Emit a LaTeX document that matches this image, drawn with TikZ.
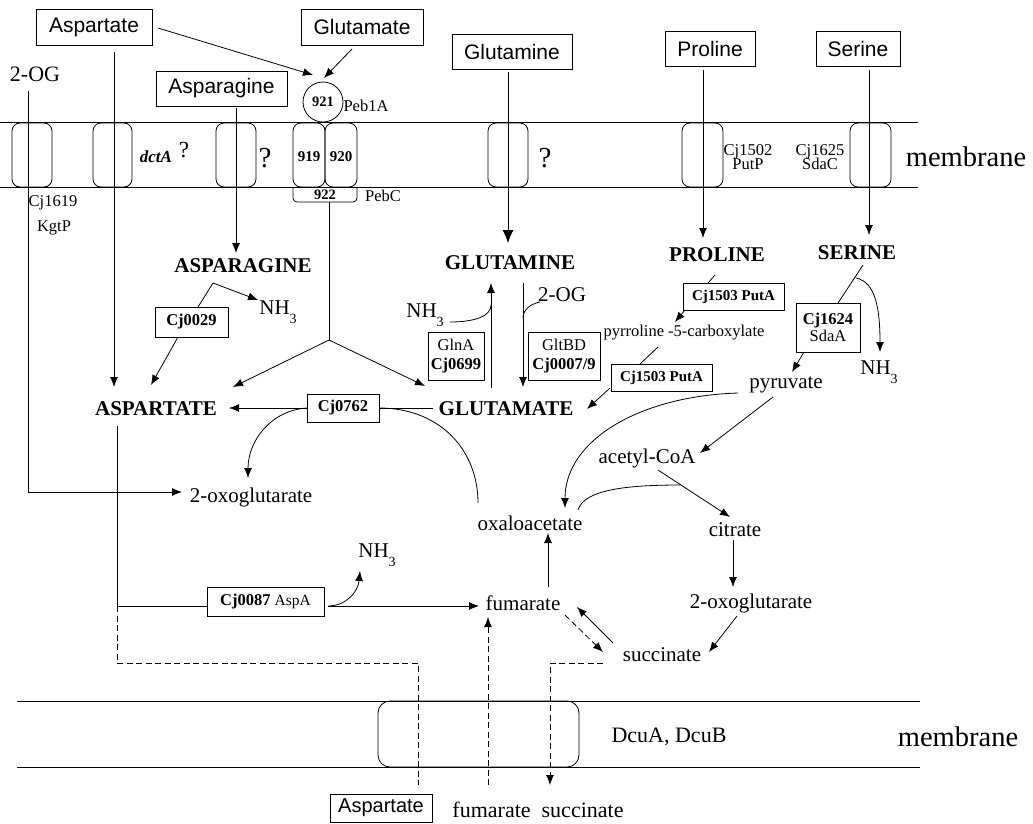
\documentclass[tikz,border=0pt]{standalone}
\usepackage{fontspec}
\setmainfont{Liberation Serif}
\setsansfont{Liberation Sans}
\usetikzlibrary{arrows.meta}
\newcommand\fsz[1]{\fontsize{#1}{#1}\selectfont}
\newcommand\nhthree{NH\raisebox{-0.4em}{\fsz{14}3}}
\begin{document}
\begin{tikzpicture}[x=1pt,y=-1pt,
  line width=0.8pt,
  arr/.style={-{Latex[length=10pt,width=8pt]}},
  bigarr/.style={-{Latex[length=13pt,width=11pt]}},
  sbox/.style={draw, font=\sffamily\fsz{21}, inner sep=0pt},
  ebox/.style={draw, font=\fsz{16.5}\bfseries, inner sep=0pt, align=center},
  met/.style={font=\fsz{21}, inner sep=1pt},
  capmet/.style={font=\fsz{21}\bfseries, inner sep=1pt},
  lbl/.style={font=\fsz{16.5}, inner sep=1pt, align=center},
  chan/.style={draw, rounded corners=8pt},
  dsh/.style={dash pattern=on 6pt off 3.5pt},
]
\useasboundingbox (0,0) rectangle (1033,823);

% ---------------- membranes ----------------
\draw (0,122) -- (918,122);
\draw (0,187) -- (918,187);
\draw (17,701) -- (920,701);
\draw (17,767) -- (920,767);
\node[font=\fsz{28.5}] (mem1) at (966,157) {membrane};
\node[font=\fsz{28.5}] (mem2) at (958,737) {membrane};

% channels top
\draw[chan] (12,123) rectangle (52,187);
\draw[chan] (93,123) rectangle (132,187);
\draw[chan] (216,123) rectangle (256,187);
\draw[chan] (293,123) rectangle (325,187);
\draw[chan] (325,123) rectangle (357,187);
\draw[rounded corners=4pt] (293,187) -- (293,202) -- (357,202) -- (357,187);
\draw[chan] (488,123) rectangle (528,187);
\draw[chan] (682,123) rectangle (723,187);
\draw[chan] (850,123) rectangle (891,187);
\node[draw, circle, minimum size=40pt, inner sep=0pt, font=\fsz{14.5}\bfseries] (p921) at (323,102) {921};
\node[font=\fsz{15}\bfseries] (p919) at (309,157) {919};
\node[font=\fsz{15}\bfseries] (p920) at (341,157) {920};
\node[font=\fsz{14.5}\bfseries] (p922) at (325,195) {922};
\node[lbl] (peb1a) at (366,106) {Peb1A};
\node[lbl] (pebc) at (383,196) {PebC};
\node[lbl] (kgt1) at (53,203) {Cj1619};
\node[lbl] (kgt2) at (54,228) {KgtP};
\node[font=\fsz{17}\bfseries\itshape] (dcta) at (156,157) {dctA};
\node[font=\fsz{23}] (q1) at (184,150) {?};
\node[font=\fsz{29}] (q2) at (265,158) {?};
\node[font=\fsz{29}] (q3) at (545,158) {?};
\node[lbl, align=center] (putp) at (748,157) {Cj1502\\[-2pt]PutP};
\node[lbl, align=center] (sdac) at (820,157) {Cj1625\\[-2pt]SdaC};

% lower channel
\draw[rounded corners=12pt] (378,701) rectangle (579,767);
\node[font=\fsz{22}] (dcu) at (669,737) {DcuA, DcuB};

% ---------------- outside substrates ----------------
\node[sbox, minimum width=116pt, minimum height=36pt] (aspo) at (94,27) {Aspartate};
\node[sbox, minimum width=122pt, minimum height=36pt] (gluo) at (362,27) {Glutamate};
\node[sbox, minimum width=131pt, minimum height=35pt] (asno) at (221.5,88.5) {Asparagine};
\node[sbox, minimum width=120pt, minimum height=35pt] (glno) at (512,51.5) {Glutamine};
\node[sbox, minimum width=90pt, minimum height=35pt] (proo) at (710,48.5) {Proline};
\node[sbox, minimum width=84pt, minimum height=35pt] (sero) at (858,48.5) {Serine};
\node[font=\fsz{22}] (ogo) at (35,74) {2-OG};
\node[sbox, font=\sffamily\fsz{20}, minimum width=102pt, minimum height=28pt] (aspb) at (381,808) {Aspartate};
\node[font=\fsz{22}] (fsb) at (538,810) {fumarate\ \ succinate};

% ---------------- cytoplasm metabolites ----------------
\node[capmet] (asn) at (243,266) {ASPARAGINE};
\node[capmet] (gln) at (510,263) {GLUTAMINE};
\node[capmet] (pro) at (717,255) {PROLINE};
\node[capmet] (ser) at (857,253) {SERINE};
\node[capmet] (asp) at (156,409) {ASPARTATE};
\node[capmet] (glu) at (506,409) {GLUTAMATE};
\node[met] (nh3a) at (278,312) {\nhthree};
\node[met] (nh3b) at (425,315) {\nhthree};
\node[met] (og2) at (562,295) {2-OG};
\node[font=\fsz{16.5}] (p5c) at (684,333) {pyrroline -5-carboxylate};
\node[met] (nh3c) at (879,372) {\nhthree};
\node[met] (pyr) at (786,385) {pyruvate};
\node[met] (acoa) at (647,458) {acetyl-CoA};
\node[met] (oxl) at (251,497) {2-oxoglutarate};
\node[met] (oaa) at (530,523) {oxaloacetate};
\node[met] (cit) at (735,530) {citrate};
\node[met] (oxr) at (751,603) {2-oxoglutarate};
\node[met] (fum) at (523,603) {fumarate};
\node[met] (suc) at (662,655) {succinate};
\node[met] (nh3d) at (377,555) {\nhthree};

% ---------------- enzymes ----------------
\node[ebox, minimum width=73pt, minimum height=30pt] (e0029) at (191.5,322) {Cj0029};
\node[ebox, minimum width=72pt, minimum height=28pt] (e0762) at (343,408) {Cj0762};
\node[ebox, minimum width=56pt, minimum height=48pt] (gln_a) at (456,356) {{\mdseries GlnA}\\[2pt]Cj0699};
\node[ebox, minimum width=72pt, minimum height=48pt] (gltbd) at (564,356) {{\mdseries GltBD}\\[2pt]Cj0007/9};
\node[ebox, font=\fsz{15}\bfseries, minimum width=101pt, minimum height=27pt] (puta1) at (733.5,296.5) {Cj1503 PutA};
\node[ebox, font=\fsz{15}\bfseries, minimum width=101pt, minimum height=27pt] (puta2) at (661.5,377.5) {Cj1503 PutA};
\node[ebox, minimum width=64pt, minimum height=49pt] (sdaa) at (828,327.5) {Cj1624\\[1pt]{\mdseries SdaA}};
\node[ebox, minimum width=117pt, minimum height=29pt] (aspa) at (265.5,601.5) {Cj0087 {\mdseries\fsz{15.5}AspA}};

% ---------------- connector points ----------------
\coordinate (ogT) at (28,91);
\coordinate (ogB) at (28,492);
\coordinate (ogTip) at (182,492);
\coordinate (aspT) at (114,52);
\coordinate (aspTip) at (114,387);
\coordinate (asnT) at (236,108);
\coordinate (asnTip) at (236,253);
\coordinate (glnT) at (508,72);
\coordinate (glnTip) at (508,243);
\coordinate (proT) at (703,70);
\coordinate (proTip) at (703,238);
\coordinate (serT) at (869,70);
\coordinate (serTip) at (869,235);
\coordinate (aspoR) at (158,28);
\coordinate (c921a) at (313,75);
\coordinate (gluoB) at (352,49);
\coordinate (c921b) at (324,78);
\coordinate (pebT) at (329,202);
\coordinate (branch) at (329,340);
\coordinate (brA) at (233,387);
\coordinate (brG) at (425,386);
\coordinate (asnB) at (213,283);
\coordinate (nh3aTip) at (258,300);
\coordinate (e0029T) at (198,307);
\coordinate (e0029B) at (178,337);
\coordinate (aspTip2) at (151,385);
\coordinate (gluL) at (433,408);
\coordinate (e0762R) at (379,408);
\coordinate (e0762L) at (307,408);
\coordinate (aspR) at (229,408);
\coordinate (oxlTip) at (248,478);
\coordinate (oaaT) at (478,503);
\coordinate (upB) at (491,388);
\coordinate (upT) at (491,283);
\coordinate (nh3bR) at (450,322);
\coordinate (upJ) at (491,305);
\coordinate (dnT) at (523,283);
\coordinate (dnB) at (523,387);
\coordinate (og2L) at (540,302);
\coordinate (dnJ) at (523,318);
\coordinate (proB) at (715,275);
\coordinate (puta1T) at (708,283);
\coordinate (puta1B) at (685,310);
\coordinate (p5cTip) at (675,322);
\coordinate (p5cB) at (658,347);
\coordinate (puta2T) at (640,364);
\coordinate (puta2B) at (610,388);
\coordinate (gluTip) at (587,409);
\coordinate (serB) at (863,265);
\coordinate (sdaaT) at (838,303);
\coordinate (serR) at (856,278);
\coordinate (nh3cTip) at (880,352);
\coordinate (sdaaB) at (804,352);
\coordinate (pyrTip) at (792,372);
\coordinate (pyrB) at (773,397);
\coordinate (acoaTip) at (700,453);
\coordinate (pyrL) at (738,393);
\coordinate (oaaTip) at (565,508);
\coordinate (acoaB) at (658,470);
\coordinate (citTip) at (730,517);
\coordinate (oaaR) at (578,510);
\coordinate (acoaJ) at (680,485);
\coordinate (citB) at (733,540);
\coordinate (oxrTip) at (733,587);
\coordinate (oxrB) at (737,616);
\coordinate (sucTip) at (709,652);
\coordinate (sucL) at (613,643);
\coordinate (fumTip) at (577,607);
\coordinate (fumB) at (565,615);
\coordinate (sucTip2) at (603,652);
\coordinate (fumT) at (548,587);
\coordinate (oaaB) at (548,533);
\coordinate (aspB) at (117,426);
\coordinate (aspC) at (117,606);
\coordinate (aspaL) at (207,606);
\coordinate (aspaR) at (328,606);
\coordinate (fumL) at (479,606);
\coordinate (nh3dTip) at (360,571);
\coordinate (dA) at (117,663);
\coordinate (dB) at (418,663);
\coordinate (dC) at (418,785);
\coordinate (fumD) at (488,785);
\coordinate (fumD2) at (488,617);
\coordinate (sucD) at (603,663);
\coordinate (sucD2) at (550,663);
\coordinate (sucD3) at (550,785);

% ---------------- connectors ----------------
\draw[arr] (ogT) -- (ogB) -- (ogTip);
\draw[arr] (aspT) -- (aspTip);
\draw[arr] (asnT) -- (asnTip);
\draw[bigarr] (glnT) -- (glnTip);
\draw[arr] (proT) -- (proTip);
\draw[arr] (serT) -- (serTip);
\draw[arr] (aspoR) -- (c921a);
\draw[arr] (gluoB) -- (c921b);
\draw (pebT) -- (branch);
\draw[arr] (branch) -- (brA);
\draw[arr] (branch) -- (brG);
\draw[arr] (asnB) -- (nh3aTip);
\draw (asnB) -- (e0029T);
\draw[arr] (e0029B) -- (aspTip2);
\draw (gluL) -- (e0762R);
\draw[arr] (e0762L) -- (aspR);
\draw[arr] (e0762L) .. controls (272,410) and (248,440) .. (oxlTip);
\draw (e0762R) .. controls (440,408) and (478,450) .. (oaaT);
\draw[arr] (upB) -- (upT);
\draw (nh3bR) .. controls (475,322) and (491,316) .. (upJ);
\draw[arr] (dnT) -- (dnB);
\draw (og2L) .. controls (530,304) and (523,310) .. (dnJ);
\draw (proB) -- (puta1T);
\draw[arr] (puta1B) -- (p5cTip);
\draw (p5cB) -- (puta2T);
\draw[arr] (puta2B) -- (gluTip);
\draw (serB) -- (sdaaT);
\draw[arr] (serR) .. controls (876,282) and (880,310) .. (nh3cTip);
\draw[arr] (sdaaB) -- (pyrTip);
\draw[arr] (pyrB) -- (acoaTip);
\draw[arr] (pyrL) .. controls (640,396) and (565,440) .. (oaaTip);
\draw[arr] (acoaB) -- (citTip);
\draw (oaaR) .. controls (584,490) and (625,485) .. (acoaJ);
\draw[arr] (citB) -- (oxrTip);
\draw[arr] (oxrB) -- (sucTip);
\draw[arr] (sucL) -- (fumTip);
\draw[arr, dsh] (fumB) -- (sucTip2);
\draw[arr] (fumT) -- (oaaB);
\draw (aspB) -- (aspC) -- (aspaL);
\draw[arr] (aspaR) -- (fumL);
\draw[arr] (aspaR) .. controls (346,606) and (358,592) .. (nh3dTip);
\draw[dsh] (aspC) -- (dA) -- (dB) -- (dC);
\draw[arr, dsh] (fumD) -- (fumD2);
\draw[arr, dsh] (sucD) -- (sucD2) -- (sucD3);

\end{tikzpicture}
\end{document}
